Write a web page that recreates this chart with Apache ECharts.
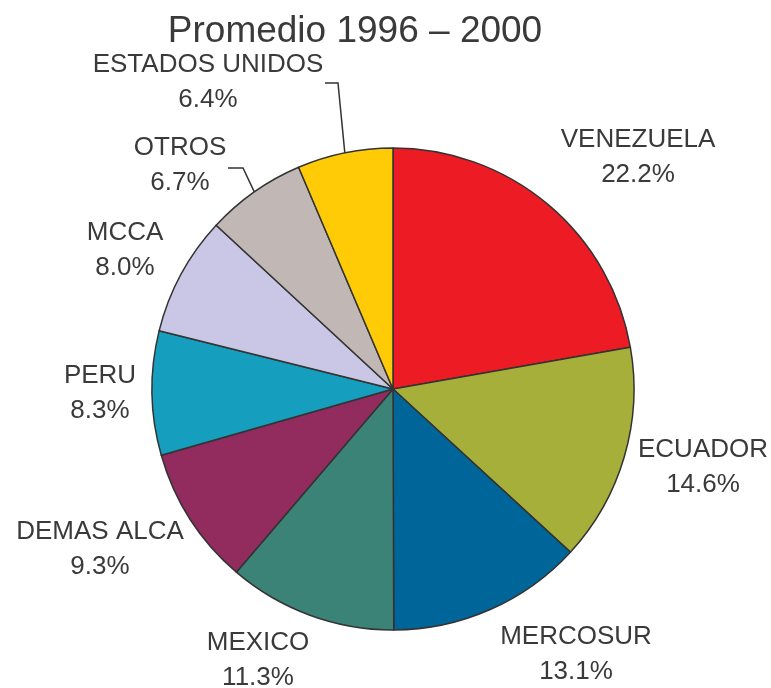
<!DOCTYPE html>
<html>
<head>
<meta charset="utf-8">
<title>Promedio 1996 – 2000</title>
<script src="https://cdn.jsdelivr.net/npm/echarts@6/dist/echarts.min.js"></script>
<style>
  html, body { margin: 0; padding: 0; background: #ffffff; }
  #chart { width: 771px; height: 688px; }
</style>
</head>
<body>
<div id="chart"></div>
<script>
// Participación promedio por destino, 1996–2000 (%)
const chartTitle = 'Promedio 1996 – 2000';
const categories = ['VENEZUELA', 'ECUADOR', 'MERCOSUR', 'MEXICO', 'DEMAS ALCA', 'PERU', 'MCCA', 'OTROS', 'ESTADOS UNIDOS'];
const shares = [22.2, 14.6, 13.1, 11.3, 9.3, 8.3, 8.0, 6.7, 6.4];
const sliceColors = ['#ED1C24', '#A7AF3B', '#00669A', '#3B8377', '#922C5E', '#159EBE', '#C9C7E5', '#C1B8B5', '#FFCB06'];

// Label block centres (px) and which labels get a leader line
const labelSpots = [
  [638, 157], [703, 467], [576, 654], [258, 660], [100, 549],
  [100, 393], [125, 250], [180, 165], [208, 82]
];
const withLeader = { 'OTROS': true, 'ESTADOS UNIDOS': true };
// leader bend / end points for the labels that use one
const leaderPath = {
  'OTROS': [[243, 168], [228, 168]],
  'ESTADOS UNIDOS': [[338, 83], [325, 83]]
};

const chart = echarts.init(document.getElementById('chart'), null, { renderer: 'canvas' });

const data = categories.map((name, i) => ({
  name: name,
  value: shares[i],
  itemStyle: { color: sliceColors[i] },
  labelLine: { show: !!withLeader[name] }
}));

chart.setOption({
  animation: false,
  backgroundColor: '#ffffff',
  graphic: [{
    type: 'text',
    x: 355,
    y: 32,
    silent: true,
    style: {
      text: chartTitle,
      fontFamily: 'Liberation Sans',
      fontSize: 37,
      fill: '#3a3a3a',
      align: 'center',
      verticalAlign: 'middle'
    }
  }],
  series: [{
    type: 'pie',
    center: [393, 389],
    radius: [0, 241],
    startAngle: 90,
    clockwise: true,
    avoidLabelOverlap: false,
    data: data,
    itemStyle: {
      borderColor: '#333333',
      borderWidth: 1.5
    },
    label: {
      show: true,
      position: 'outside',
      formatter: p => p.name + '\n' + p.value.toFixed(1) + '%',
      fontFamily: 'Liberation Sans',
      fontSize: 26,
      lineHeight: 35,
      color: '#3a3a3a',
      align: 'center'
    },
    labelLine: {
      length: 10,
      length2: 10,
      smooth: false,
      lineStyle: { color: '#333333', width: 1.5 }
    },
    emphasis: { disabled: true },
    labelLayout: function (params) {
      const spot = labelSpots[params.dataIndex];
      const name = categories[params.dataIndex];
      const out = {
        x: spot[0],
        y: spot[1],
        align: 'center',
        verticalAlign: 'middle'
      };
      if (withLeader[name] && params.labelLinePoints) {
        const edge = params.labelLinePoints[0];
        out.labelLinePoints = [edge].concat(leaderPath[name]);
      }
      return out;
    }
  }]
});
</script>
</body>
</html>
